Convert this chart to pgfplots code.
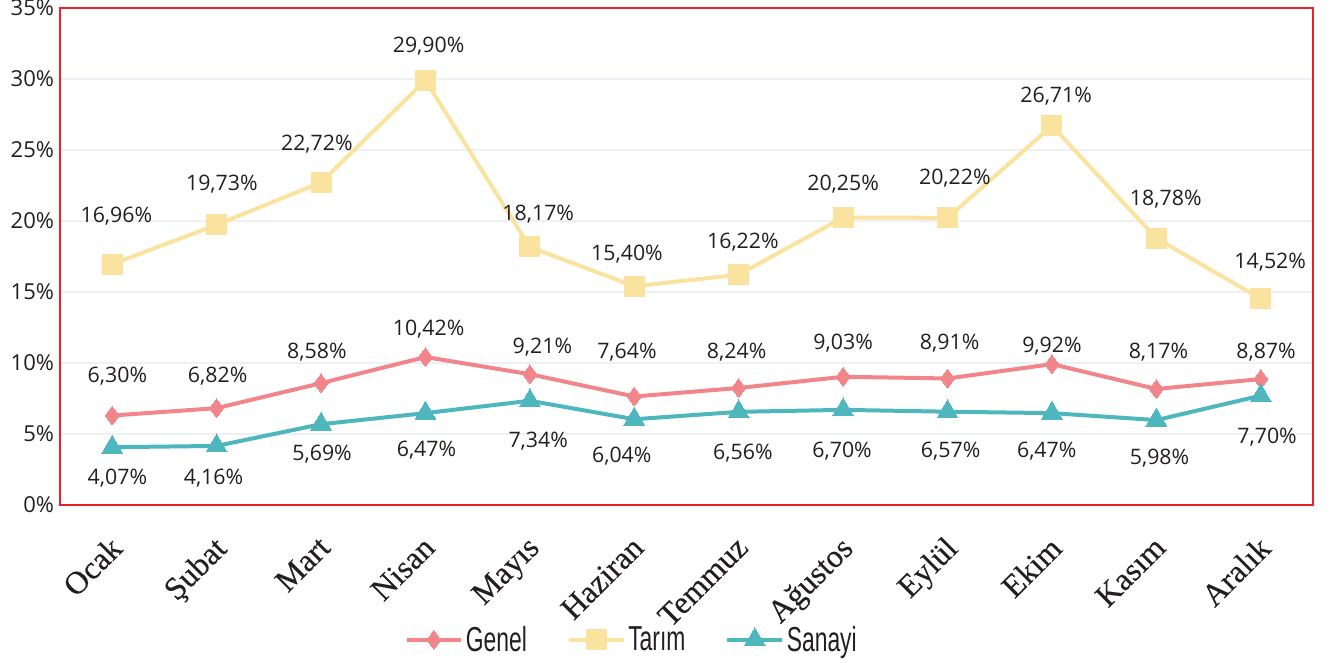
\documentclass[border=0pt]{standalone}
\usepackage{fontspec}
\setmainfont{Open Sans}
\newfontfamily\serifx[FakeBold=0.3]{Liberation Serif}
\newfontfamily\condfont[FakeStretch=0.66]{Liberation Sans}
\usepackage{pgfplots}
\pgfplotsset{compat=1.18}
\definecolor{cgen}{HTML}{F2858A}
\definecolor{ctar}{HTML}{F9E39F}
\definecolor{csan}{HTML}{4DB7BD}
\definecolor{cred}{HTML}{E8212B}
\definecolor{cgrid}{HTML}{EDF1F5}
\definecolor{ctxt}{HTML}{231F20}
\begin{document}
\begin{tikzpicture}
\begin{axis}[
 at={(0,0)}, anchor=south west, scale only axis,
 width=939.75pt, height=372.75pt,
 xmin=-0.5, xmax=11.5, ymin=0, ymax=35,
 xtick={0,...,11},
 xticklabels={Ocak,Şubat,Mart,Nisan,Mayıs,Haziran,Temmuz,Ağustos,Eylül,Ekim,Kasım,Aralık},
 ytick={0,5,...,35},
 yticklabel={\pgfmathprintnumber{\tick}\%},
 /pgf/number format/assume math mode=true,
 tick style={draw=none},
 axis line style={cred, line width=2pt},
 ymajorgrids, grid style={cgrid, line width=0.8pt},
 yticklabel style={font=\fontsize{16.5}{18}\selectfont, text=ctxt, xshift=-1pt},
 xticklabel style={font=\serifx\fontsize{24}{28}\selectfont, text=ctxt, inner sep=0pt, xshift=-3pt, yshift=-22pt, rotate=45, anchor=north east},
 legend columns=3,
 legend style={draw=none, fill=none, at={(axis description cs:0.4565,-0.271)}, anchor=center,
   font=\condfont\fontsize{26}{28}\selectfont, text=ctxt,
   /tikz/every even column/.append style={column sep=28pt},
   inner sep=0pt},
 legend image code/.code={\draw[#1, mark repeat=2, mark phase=2] plot coordinates {(0pt,0pt) (20.5pt,0pt) (41pt,0pt)};},
 every node near coord/.append style={font=\fontsize{16}{18}\selectfont, text=ctxt, anchor=center},
]
\addplot[cgen, line width=3pt, mark=diamond*, mark size=7pt, mark options={solid, fill=cgen, draw=cgen, line width=0pt}] coordinates {
(0,6.30) (1,6.82) (2,8.58) (3,10.42) (4,9.21) (5,7.64) (6,8.24) (7,9.03) (8,8.91) (9,9.92) (10,8.17) (11,8.87)};
\addlegendentry{Genel}
\addplot[ctar, line width=3pt, mark=square*, mark size=7.5pt, mark options={solid, fill=ctar, draw=ctar, line width=0pt}] coordinates {
(0,16.96) (1,19.73) (2,22.72) (3,29.90) (4,18.17) (5,15.40) (6,16.22) (7,20.25) (8,20.22) (9,26.71) (10,18.78) (11,14.52)};
\addlegendentry{Tarım}
\addplot[csan, line width=3pt, mark=triangle*, mark size=9pt, mark options={solid, fill=csan, draw=csan, line width=0pt}] coordinates {
(0,4.07) (1,4.16) (2,5.69) (3,6.47) (4,7.34) (5,6.04) (6,6.56) (7,6.70) (8,6.57) (9,6.47) (10,5.98) (11,7.70)};
\addlegendentry{Sanayi}
\addplot[draw=none, mark=none, forget plot, nodes near coords={\pgfplotspointmeta\%}, point meta=explicit symbolic] table[meta=lab] {
x y lab
0.04 20.36 16,96
1.05 22.62 19,73
1.96 25.44 22,72
3.03 32.29 29,90
4.08 20.50 18,17
4.93 17.68 15,40
6.04 18.53 16,22
7.00 22.62 20,25
8.07 23.04 20,22
9.04 28.76 26,71
10.09 21.56 18,78
11.09 17.11 14,52
0.05 9.07 6,30
1.01 9.07 6,82
1.96 10.76 8,58
3.03 12.38 10,42
4.12 11.11 9,21
4.93 10.76 7,64
5.98 10.76 8,24
7.00 11.40 9,03
8.02 11.40 8,91
9.00 11.19 9,92
10.02 10.76 8,17
11.05 10.76 8,87
0.05 1.87 4,07
0.97 1.87 4,16
2.01 3.56 5,69
3.01 3.85 6,47
4.08 4.48 7,34
4.88 3.42 6,04
6.04 3.63 6,56
6.99 3.78 6,70
8.03 3.78 6,57
8.95 3.78 6,47
10.03 3.28 5,98
11.06 4.76 7,70
};
\end{axis}
\pgfresetboundingbox
\path (-45pt,-118.5pt) rectangle (952.5pt,378.75pt);
\end{tikzpicture}
\end{document}
